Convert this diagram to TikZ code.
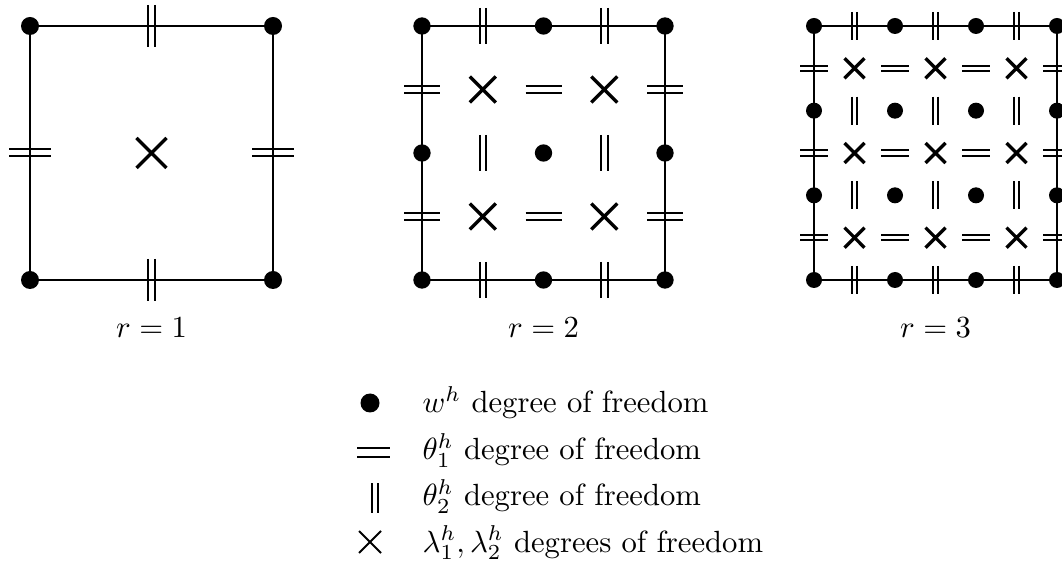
\documentclass[tikz,border=0pt]{standalone}
\newcommand\shrinktext[1]{\scalebox{0.92}{#1}}
\begin{document}
\begin{tikzpicture}[x=0.3pt,y=-0.3pt,
  edge/.style={line width=0.65pt},
  tickmk/.style={line width=0.6pt},
  crossmk/.style={line width=1pt},
  lab/.style={inner sep=0pt,anchor=base},
  legtext/.style={inner sep=0pt,anchor=base west}]
\useasboundingbox (0,0) rectangle (1062,561);
\foreach \xo/\r/\dr/\tl/\tg/\cl in {30/1/2.7/21/7/15, 422/2/2.6/18/6.5/13, 814/3/2.4/14/5.5/10} {
  \pgfmathsetmacro\dx{243/\r}
  \pgfmathsetmacro\dy{254/\r}
  \draw[edge] (\xo,26) rectangle ({\xo+243},280);
  % theta_1 marks on vertical lines
  \foreach \i in {0,...,\r} {
    \foreach \j in {1,...,\r} {
      \pgfmathsetmacro\px{\xo+\i*\dx}
      \pgfmathsetmacro\py{26+(\j-0.5)*\dy}
      \draw[tickmk] ({\px-\tl},{\py-\tg/2}) -- ({\px+\tl},{\py-\tg/2})
                    ({\px-\tl},{\py+\tg/2}) -- ({\px+\tl},{\py+\tg/2});
    }
  }
  % theta_2 marks on horizontal lines
  \foreach \i in {1,...,\r} {
    \foreach \j in {0,...,\r} {
      \pgfmathsetmacro\px{\xo+(\i-0.5)*\dx}
      \pgfmathsetmacro\py{26+\j*\dy}
      \draw[tickmk] ({\px-\tg/2},{\py-\tl}) -- ({\px-\tg/2},{\py+\tl})
                    ({\px+\tg/2},{\py-\tl}) -- ({\px+\tg/2},{\py+\tl});
    }
  }
  % lambda crosses
  \foreach \i in {1,...,\r} {
    \foreach \j in {1,...,\r} {
      \pgfmathsetmacro\px{\xo+(\i-0.5)*\dx}
      \pgfmathsetmacro\py{26+(\j-0.5)*\dy}
      \draw[crossmk] ({\px-\cl},{\py-\cl}) -- ({\px+\cl},{\py+\cl})
                     ({\px-\cl},{\py+\cl}) -- ({\px+\cl},{\py-\cl});
    }
  }
  % w dots
  \foreach \i in {0,...,\r} {
    \foreach \j in {0,...,\r} {
      \pgfmathsetmacro\px{\xo+\i*\dx}
      \pgfmathsetmacro\py{26+\j*\dy}
      \fill (\px,\py) circle[radius=\dr pt];
    }
  }
}
\node[lab] (r1) at (151.5,338) {\shrinktext{$r=1$}};
\node[lab] (r2) at (543.5,338) {\shrinktext{$r=2$}};
\node[lab] (r3) at (935.5,338) {\shrinktext{$r=3$}};
% legend
\fill (370,403) circle[radius=2.85pt];
\draw[tickmk] (357,448.5) -- (390,448.5) (357,456.5) -- (390,456.5);
\draw[tickmk] (372,483) -- (372,513) (378,483) -- (378,513);
\draw[tickmk] (359,531) -- (381,553) (359,553) -- (381,531);
\node[legtext] (l1) at (422,413) {\shrinktext{$w^h$ degree of freedom}};
\node[legtext] (l2) at (422,459.5) {\shrinktext{$\theta_1^h$ degree of freedom}};
\node[legtext] (l3) at (422,506) {\shrinktext{$\theta_2^h$ degree of freedom}};
\node[legtext] (l4) at (422,552) {\shrinktext{$\lambda_1^h,\lambda_2^h$ degrees of freedom}};
\end{tikzpicture}
\end{document}
